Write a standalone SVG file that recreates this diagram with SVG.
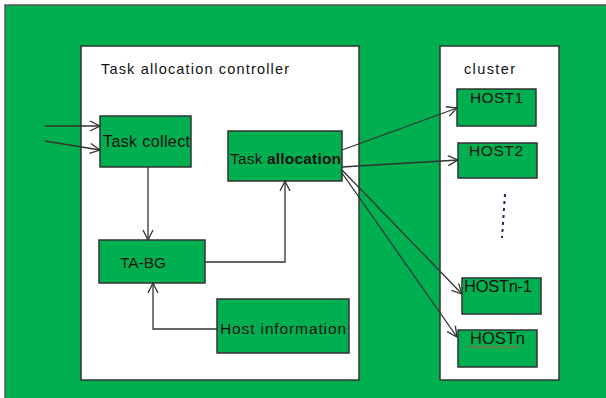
<svg xmlns="http://www.w3.org/2000/svg" width="606" height="398" viewBox="0 0 606 398">
<defs>
<style>
.bg{fill:#00b050;stroke:#555;stroke-width:1.5}
.panel{fill:#fff;stroke:#333;stroke-width:1.5}
.box{fill:#00b050;stroke:#333;stroke-width:1.5}
.t{font-family:"Liberation Sans","DejaVu Sans",sans-serif;fill:#111}
.c{fill:none;stroke:#333;stroke-width:1.3}
</style>
<marker id="ah" viewBox="0 0 12 12" refX="11" refY="6" markerWidth="12" markerHeight="12" markerUnits="userSpaceOnUse" orient="auto">
<path d="M1,1 L11,6 L1,11" fill="none" stroke="#333" stroke-width="1.3"/>
</marker>
</defs>
<rect class="bg" x="5" y="5" width="620" height="410"/>
<g id="controller">
<rect class="panel" x="81" y="46" width="278" height="334"/>
<text class="t" x="101" y="74" font-size="14.5" textLength="188">Task allocation controller</text>
</g>
<g id="cluster">
<rect class="panel" x="440" y="46" width="119" height="334"/>
<text class="t" x="464" y="74" font-size="14.5" textLength="51">cluster</text>
</g>
<g id="task-collect">
<rect class="box" x="100" y="116" width="91" height="51"/>
<text class="t" x="103" y="147" font-size="16" textLength="87">Task collect</text>
</g>
<g id="task-allocation">
<rect class="box" x="228" y="131" width="114" height="50"/>
<text class="t" x="230" y="164" font-size="15.5" textLength="111">Task <tspan font-weight="bold">allocation</tspan></text>
</g>
<g id="ta-bg">
<rect class="box" x="99" y="240" width="106" height="43"/>
<text class="t" x="120" y="268" font-size="15.5" textLength="46">TA-BG</text>
</g>
<g id="host-information">
<rect class="box" x="217" y="299" width="132" height="54"/>
<text class="t" x="220" y="334" font-size="15.5" textLength="126">Host information</text>
</g>
<g id="host1">
<rect class="box" x="457" y="89" width="79" height="37"/>
<text class="t" x="470" y="103" font-size="15.5" textLength="53">HOST1</text>
</g>
<g id="host2">
<rect class="box" x="458" y="143" width="79" height="35"/>
<text class="t" x="469" y="156" font-size="15.5" textLength="54">HOST2</text>
</g>
<g id="ellipsis">
<line x1="505" y1="194" x2="502" y2="238" stroke="#1f2a60" stroke-width="2" stroke-dasharray="3,4"/>
</g>
<g id="hostn-1">
<rect class="box" x="462" y="278" width="79" height="36"/>
<text class="t" x="464" y="292" font-size="16.5" textLength="68">HOSTn-1</text>
</g>
<g id="hostn">
<rect class="box" x="458" y="330" width="79" height="37"/>
<text class="t" x="470" y="344" font-size="16.5" textLength="55">HOSTn</text>
<path d="M468,347 q1.5,-2 3,0 t3,0 t3,0 t3,0 t3,0 t3,0 t3,0 t3,0 t3,0 t3,0 t3,0 t3,0 t3,0 t3,0 t3,0 t3,0 t3,0" fill="none" stroke="#e0503c" stroke-width="1"/>
</g>
<g id="connectors">
<line class="c" x1="45" y1="126" x2="100" y2="126" marker-end="url(#ah)"/>
<line class="c" x1="45" y1="141" x2="100" y2="150" marker-end="url(#ah)"/>
<line class="c" x1="148" y1="167" x2="148" y2="240" marker-end="url(#ah)"/>
<polyline class="c" points="205,262 285,262 285,181" marker-end="url(#ah)"/>
<polyline class="c" points="217,329 153,329 153,283" marker-end="url(#ah)"/>
<line class="c" x1="342" y1="150" x2="457" y2="108" marker-end="url(#ah)"/>
<line class="c" x1="342" y1="167" x2="458" y2="160" marker-end="url(#ah)"/>
<line class="c" x1="342" y1="170" x2="462" y2="294" marker-end="url(#ah)"/>
<line class="c" x1="342" y1="173" x2="457" y2="337" marker-end="url(#ah)"/>
</g>
</svg>
